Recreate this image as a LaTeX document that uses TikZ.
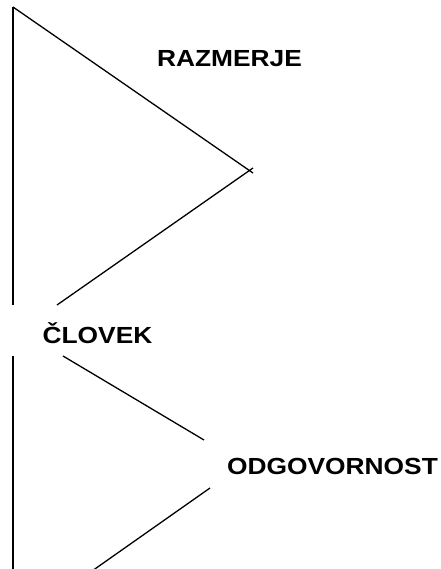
\documentclass[tikz,border=0pt]{standalone}
\usepackage{fontspec}
\setmainfont{Liberation Sans}
\newfontfamily\wordfont[FakeStretch=1.13]{Liberation Sans}
\usetikzlibrary{positioning}

\tikzset{
  word/.style={font=\wordfont\fontsize{23.3}{28}\selectfont\bfseries, inner sep=0pt, anchor=base},
  stroke/.style={line width=1.3pt}
}

\begin{document}
\begin{tikzpicture}[x=1pt,y=-1pt]
    \useasboundingbox (0,0) rectangle (440,569);

    % the three words, set on their baselines
    \node[word] (razmerje) at (229.5,67) {RAZMERJE};
    \node[word] (clovek) at (97.5,343) {ČLOVEK};
    \node[word] (odgovornost) at (332.5,474) {ODGOVORNOST};

    % ends of the strokes
    \coordinate (top) at (13,7);
    \coordinate (tipin) at (253,173);
    \coordinate (tipout) at (253,168);
    \coordinate (upperend) at (57,305);
    \coordinate (lowerstart) at (63,356);
    \coordinate (rightin) at (204,440);
    \coordinate (rightout) at (210,488);
    \coordinate (bottom) at (92,571);
    \coordinate (leftcut) at (13,305);
    \coordinate (leftresume) at (13,356);
    \coordinate (leftend) at (13,571);

    % left upright, broken round the middle word
    \draw[stroke] (top) -- (leftcut);
    \draw[stroke] (leftresume) -- (leftend);

    % zigzag
    \draw[stroke] (top) -- (tipin);
    \draw[stroke] (tipout) -- (upperend);
    \draw[stroke] (lowerstart) -- (rightin);
    \draw[stroke] (rightout) -- (bottom);
\end{tikzpicture}
\end{document}
